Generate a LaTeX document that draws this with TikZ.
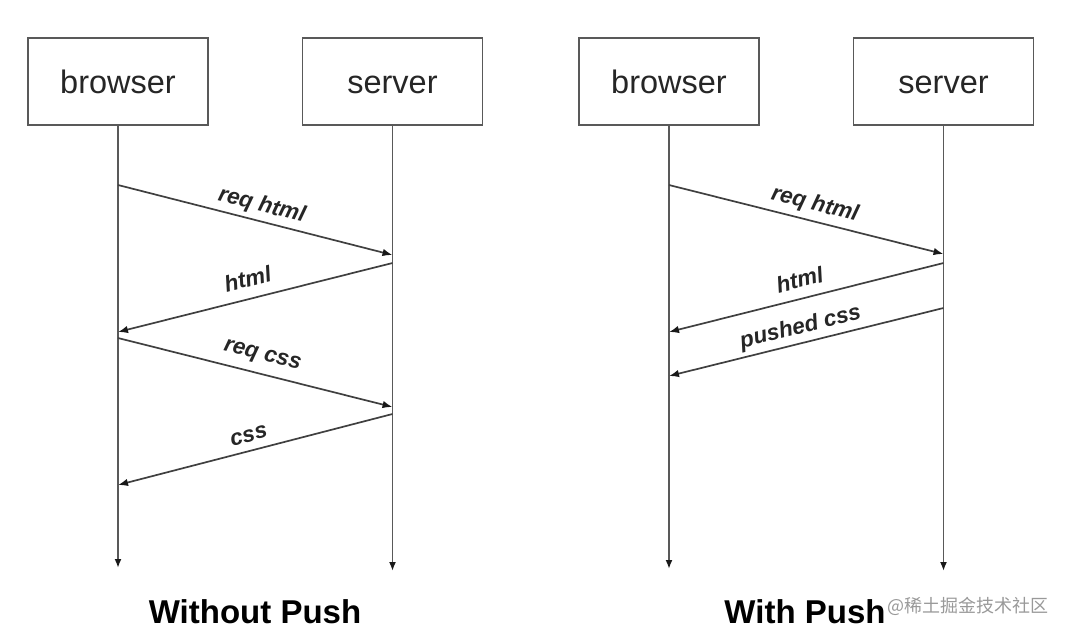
\documentclass[tikz,border=0pt]{standalone}
\usepackage{fontspec}
\setmainfont{Liberation Sans}
\newfontfamily\cjk{Noto Sans CJK SC}
\usetikzlibrary{arrows.meta}
\begin{document}
\begin{tikzpicture}[x=1pt,y=-1pt,
  box/.style={draw=black!65,line width=1.8pt,minimum width=180pt,minimum height=87pt,inner sep=0pt,text height=23pt,text depth=0pt,font=\fontsize{32.5}{36}\selectfont,text=black!85},
  life/.style={draw=black!65,line width=1.8pt,-{Latex[length=9pt,width=7pt,color=black!90]}},
  msg/.style={draw=black!75,line width=1.7pt,-{Latex[length=10pt,width=7.5pt,color=black!90]}},
  lbl/.style={font=\fontsize{22.5}{26}\selectfont\bfseries\itshape,text=black!85,sloped,inner sep=1pt},
  ttl/.style={font=\fontsize{33}{40}\selectfont\bfseries,text=black,anchor=base}]
\useasboundingbox (0,0) rectangle (1066,634);
% boxes
\node[box] (b1) at (118,81.5) {browser};
\node[box] (s1) at (392.5,81.5) {server};
\node[box] (b2) at (669,81.5) {browser};
\node[box] (s2) at (943.5,81.5) {server};
% lifeline ends
\coordinate (b1e) at (118,568);
\coordinate (s1e) at (392.5,571);
\coordinate (b2e) at (669,569);
\coordinate (s2e) at (943.5,571);
\draw[life] (b1) -- (b1e);
\draw[life] (s1) -- (s1e);
\draw[life] (b2) -- (b2e);
\draw[life] (s2) -- (s2e);
% message points, left
\coordinate (L1) at (118,185);
\coordinate (L2) at (392.5,255);
\coordinate (L3) at (392.5,263);
\coordinate (L4) at (118,332);
\coordinate (L5) at (118,338);
\coordinate (L6) at (392.5,407);
\coordinate (L7) at (392.5,414);
\coordinate (L8) at (118,485);
% message points, right
\coordinate (R1) at (669,185);
\coordinate (R2) at (943.5,254);
\coordinate (R3) at (943.5,263);
\coordinate (R4) at (669,332);
\coordinate (R5) at (943.5,308);
\coordinate (R6) at (669,376);
% messages
\draw[msg] (L1) -- node[lbl,pos=0.51,above=3pt] {req html} (L2);
\draw[msg] (L3) -- node[lbl,pos=0.51,above=10pt] {html} (L4);
\draw[msg] (L5) -- node[lbl,pos=0.51,above=7pt] {req css} (L6);
\draw[msg] (L7) -- node[lbl,pos=0.51,above=7pt] {css} (L8);
\draw[msg] (R1) -- node[lbl,pos=0.517,above=4pt] {req html} (R2);
\draw[msg] (R3) -- node[lbl,pos=0.507,above=9pt] {html} (R4);
\draw[msg] (R5) -- node[lbl,pos=0.507,above=3pt] {pushed css} (R6);
% titles
\node[ttl] (t1) at (255,623) {Without Push};
\node[ttl] (t2) at (805,623) {With Push};
\node[font=\cjk\fontsize{18}{20}\selectfont,text=black!40,anchor=base west,inner sep=0pt] (wm) at (887,612) {@稀土掘金技术社区};
\end{tikzpicture}
\end{document}
